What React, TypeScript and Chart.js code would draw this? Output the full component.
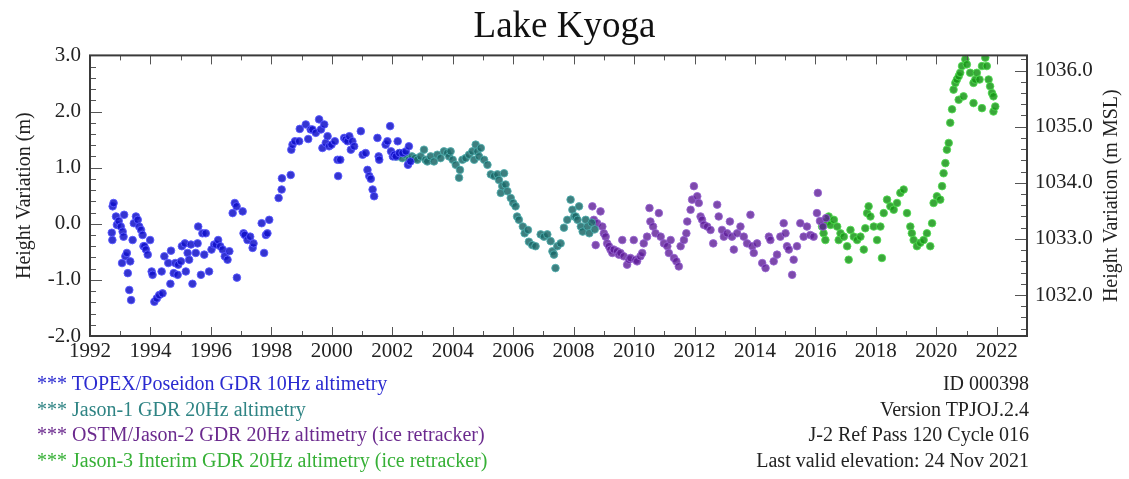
import React, { useEffect, useRef } from "react";
import { Chart, registerables } from "chart.js";

Chart.register(...registerables);

const chartTitle = "Lake Kyoga";
const leftAxisTitle = "Height Variation (m)";
const rightAxisTitle = "Height Variation (m MSL)";
const xTickYears = [1992, 1994, 1996, 1998, 2000, 2002, 2004, 2006, 2008, 2010, 2012, 2014, 2016, 2018, 2020, 2022];
const leftTicks = [-2, -1, 0, 1, 2, 3];
const rightTicks = [1032, 1033, 1034, 1035, 1036];

const topexYears = [
  1992.72, 1992.74, 1992.75, 1992.78, 1992.86, 1992.89, 1992.95, 1993.02, 1993.06, 1993.08,
  1993.11, 1993.13, 1993.17, 1993.22, 1993.25, 1993.30, 1993.33, 1993.36, 1993.41, 1993.45,
  1993.52, 1993.58, 1993.63, 1993.69, 1993.74, 1993.77, 1993.80, 1993.85, 1993.91, 1993.99,
  1994.04, 1994.07, 1994.13, 1994.21, 1994.29, 1994.37, 1994.40, 1994.46, 1994.59, 1994.66,
  1994.68, 1994.77, 1994.82, 1994.90, 1994.92, 1995.01, 1995.04, 1995.14, 1995.17, 1995.23,
  1995.28, 1995.34, 1995.39, 1995.50, 1995.56, 1995.58, 1995.67, 1995.72, 1995.78, 1995.83,
  1995.94, 1996.02, 1996.11, 1996.17, 1996.24, 1996.31, 1996.39, 1996.46, 1996.55, 1996.61,
  1996.72, 1996.79, 1996.85, 1996.86, 1997.05, 1997.08, 1997.12, 1997.21, 1997.30, 1997.38,
  1997.41, 1997.68, 1997.76, 1997.82, 1997.87, 1997.93, 1998.24, 1998.34, 1998.35, 1998.64,
  1998.66, 1998.70, 1998.78, 1998.92, 1998.94, 1999.14, 1999.22, 1999.30, 1999.36, 1999.47,
  1999.58, 1999.64, 1999.69, 1999.75, 1999.80, 1999.86, 1999.91, 1999.99, 2000.10, 2000.19,
  2000.21, 2000.28, 2000.41, 2000.46, 2000.52, 2000.58, 2000.63, 2000.68, 2000.74, 2000.96,
  2001.02, 2001.12, 2001.18, 2001.24, 2001.29, 2001.35, 2001.40, 2001.51, 2001.55, 2001.57,
  2001.78, 2001.84, 2001.93, 2001.96, 2002.02, 2002.07, 2002.12, 2002.18, 2002.23, 2002.34,
  2002.45, 2002.52, 2002.55, 2002.60,
];
const topexHeights = [
  -0.16, -0.29, 0.31, 0.37, 0.13, -0.02, 0.05, -0.05, -0.70, -0.14,
  -0.23, 0.16, -0.58, -0.52, -0.88, -1.18, -0.67, -1.36, -0.29, 0.01,
  0.13, 0.07, -0.05, -0.11, -0.20, -0.40, -0.40, -0.46, -0.55, -0.29,
  -0.85, -0.91, -1.39, -1.33, -1.27, -0.85, -1.24, -0.58, -0.70, -1.07,
  -0.48, -0.88, -0.70, -0.91, -0.73, -0.67, -0.40, -0.35, -0.85, -0.52,
  -0.64, -0.37, -1.07, -0.52, -0.35, -0.05, -0.91, -0.17, -0.55, -0.17,
  -0.85, -0.46, -0.37, -0.37, -0.29, -0.40, -0.46, -0.58, -0.64, -0.49,
  0.19, 0.37, 0.31, -0.96, 0.22, -0.17, -0.20, -0.29, -0.23, -0.43,
  -0.35, 0.01, -0.52, -0.20, -0.17, 0.07, 0.46, 0.61, 0.81, 0.87,
  1.32, 1.41, 1.47, 1.47, 1.69, 1.77, 1.51, 1.68, 1.68, 1.62,
  1.86, 1.68, 1.35, 1.77, 1.44, 1.56, 1.38, 1.41, 1.47, 1.14,
  0.85, 1.14, 1.53, 1.50, 1.47, 1.56, 1.32, 1.47, 1.38, 1.65,
  1.23, 1.26, 0.96, 0.85, 0.80, 0.61, 0.49, 1.53, 1.20, 1.14,
  1.41, 1.47, 1.74, 1.29, 1.20, 1.23, 1.20, 1.47, 1.26, 1.26,
  1.29, 1.05, 1.38, 1.11,
];

const jason1Years = [
  2002.10, 2002.17, 2002.25, 2002.33, 2002.44, 2002.55, 2002.65, 2002.75, 2002.83, 2002.94,
  2003.05, 2003.10, 2003.16, 2003.27, 2003.38, 2003.49, 2003.60, 2003.71, 2003.82, 2003.88,
  2003.93, 2004.00, 2004.10, 2004.21, 2004.24, 2004.32, 2004.43, 2004.54, 2004.65, 2004.71,
  2004.76, 2004.82, 2004.87, 2004.93, 2005.04, 2005.15, 2005.26, 2005.37, 2005.48, 2005.53,
  2005.59, 2005.64, 2005.70, 2005.75, 2005.81, 2005.92, 2006.00, 2006.08, 2006.13, 2006.19,
  2006.32, 2006.38, 2006.49, 2006.52, 2006.63, 2006.74, 2006.91, 2007.02, 2007.13, 2007.24,
  2007.30, 2007.35, 2007.40, 2007.46, 2007.57, 2007.68, 2007.79, 2007.90, 2007.96, 2008.02,
  2008.07, 2008.13, 2008.18, 2008.24, 2008.30, 2008.40, 2008.46, 2008.52, 2008.60, 2008.70,
];
const jason1Heights = [
  1.20, 1.20, 1.26, 1.17, 1.23, 1.14, 1.20, 1.17, 1.14, 1.20,
  1.32, 1.14, 1.11, 1.20, 1.11, 1.23, 1.17, 1.29, 1.26, 1.20,
  1.29, 1.14, 1.05, 0.82, 0.96, 1.14, 1.17, 1.23, 1.29, 1.14,
  1.41, 1.29, 1.20, 1.35, 1.14, 1.05, 0.88, 0.85, 0.88, 0.78,
  0.55, 0.67, 0.90, 0.70, 0.58, 0.46, 0.37, 0.31, 0.13, 0.07,
  -0.05, -0.17, -0.11, -0.32, -0.38, -0.40, -0.19, -0.23, -0.19, -0.31,
  -0.49, -0.55, -0.79, -0.40, -0.35, -0.07, 0.07, 0.43, 0.25, 0.13,
  0.13, 0.07, 0.31, -0.05, -0.14, 0.07, -0.05, -0.17, 0.02, -0.10,
];

const jason2Years = [
  2008.62, 2008.67, 2008.73, 2008.78, 2008.89, 2008.95, 2009.00, 2009.06, 2009.11, 2009.17,
  2009.22, 2009.28, 2009.33, 2009.44, 2009.50, 2009.55, 2009.61, 2009.66, 2009.77, 2009.83,
  2009.88, 2009.99, 2010.05, 2010.10, 2010.21, 2010.27, 2010.32, 2010.43, 2010.51, 2010.54,
  2010.63, 2010.71, 2010.82, 2010.88, 2010.99, 2011.10, 2011.15, 2011.21, 2011.32, 2011.40,
  2011.48, 2011.54, 2011.65, 2011.73, 2011.76, 2011.87, 2011.92, 2011.98, 2012.09, 2012.14,
  2012.20, 2012.25, 2012.31, 2012.42, 2012.53, 2012.62, 2012.75, 2012.80, 2012.91, 2012.97,
  2013.08, 2013.17, 2013.24, 2013.30, 2013.41, 2013.52, 2013.63, 2013.74, 2013.85, 2013.91,
  2013.96, 2014.07, 2014.24, 2014.35, 2014.46, 2014.51, 2014.62, 2014.73, 2014.84, 2014.95,
  2015.01, 2015.06, 2015.12, 2015.23, 2015.28, 2015.39, 2015.50, 2015.61, 2015.72, 2015.83,
  2015.94, 2016.05, 2016.08, 2016.15, 2016.25, 2016.35,
];
const jason2Heights = [
  0.31, 0.07, -0.38, 0.01, 0.22, -0.05, -0.17, -0.23, -0.35, -0.40,
  -0.46, -0.52, -0.46, -0.49, -0.55, -0.52, -0.29, -0.58, -0.73, -0.64,
  -0.61, -0.29, -0.64, -0.67, -0.58, -0.52, -0.35, -0.23, 0.28, 0.04,
  -0.05, -0.17, 0.19, -0.23, -0.35, -0.40, -0.52, -0.29, -0.61, -0.67,
  -0.76, -0.40, -0.29, -0.17, 0.04, 0.25, 0.43, 0.67, 0.49, 0.37,
  0.13, 0.07, -0.02, -0.05, -0.11, -0.35, 0.34, 0.13, -0.11, -0.23,
  -0.17, 0.04, -0.23, -0.46, -0.17, -0.05, -0.23, -0.35, 0.16, -0.40,
  -0.52, -0.35, -0.70, -0.79, -0.23, -0.29, -0.67, -0.55, -0.23, 0.01,
  -0.17, -0.40, -0.46, -0.91, -0.64, -0.40, 0.01, -0.23, -0.05, -0.20,
  -0.23, 0.19, 0.55, 0.05, -0.05, 0.10,
];

const jason3Years = [
  2016.22, 2016.27, 2016.33, 2016.39, 2016.44, 2016.50, 2016.61, 2016.72, 2016.77, 2016.83,
  2016.94, 2017.05, 2017.10, 2017.16, 2017.27, 2017.38, 2017.49, 2017.60, 2017.65, 2017.71,
  2017.76, 2017.82, 2017.93, 2018.04, 2018.15, 2018.20, 2018.26, 2018.37, 2018.48, 2018.59,
  2018.70, 2018.81, 2018.92, 2019.03, 2019.14, 2019.19, 2019.25, 2019.36, 2019.47, 2019.58,
  2019.69, 2019.80, 2019.86, 2019.91, 2020.02, 2020.13, 2020.19, 2020.24, 2020.30, 2020.35,
  2020.41, 2020.46, 2020.52, 2020.57, 2020.63, 2020.68, 2020.74, 2020.74, 2020.79, 2020.85,
  2020.90, 2020.96, 2021.01, 2021.12, 2021.23, 2021.23, 2021.29, 2021.34, 2021.43, 2021.51,
  2021.51, 2021.62, 2021.67, 2021.73, 2021.78, 2021.84, 2021.89, 2021.89, 2021.95,
];
const jason3Heights = [
  -0.05, -0.17, -0.29, 0.04, 0.13, -0.02, 0.07, -0.05, -0.29, -0.17,
  -0.23, -0.40, -0.64, -0.11, -0.23, -0.29, -0.23, -0.46, -0.08, 0.19,
  0.31, 0.13, -0.05, -0.29, -0.05, -0.61, 0.19, 0.43, 0.31, 0.25,
  0.37, 0.55, 0.61, 0.19, -0.05, -0.17, -0.29, -0.40, -0.34, -0.29,
  -0.17, -0.40, 0.01, 0.37, 0.49, 0.43, 0.67, 0.90, 1.08, 1.32,
  1.44, 1.80, 2.04, 2.39, 2.51, 2.57, 2.63, 2.21, 2.69, 2.81,
  2.27, 2.93, 2.84, 2.69, 2.51, 2.15, 2.57, 2.69, 2.57, 2.81,
  2.06, 2.96, 2.81, 2.57, 2.45, 2.33, 2.27, 2.00, 2.09,
];

const seriesNames = [
  "*** TOPEX/Poseidon GDR 10Hz altimetry",
  "*** Jason-1 GDR 20Hz altimetry",
  "*** OSTM/Jason-2 GDR 20Hz altimetry (ice retracker)",
  "*** Jason-3 Interim GDR 20Hz altimetry (ice retracker)",
];
const infoLines = [
  "ID 000398",
  "Version TPJOJ.2.4",
  "J-2 Ref Pass 120 Cycle 016",
  "Last valid elevation: 24 Nov 2021",
];

const SERIF = '"Liberation Serif", "Times New Roman", serif';
const legendColors = ["#2a2ad0", "#2f8484", "#6b2a8e", "#36b036"];
const pointFills = ["rgba(16,16,200,0.85)", "rgba(28,105,105,0.85)", "rgba(92,28,150,0.8)", "rgba(24,150,24,0.85)"];
const pointBorders = ["rgba(90,90,255,0.9)", "rgba(80,175,175,0.85)", "rgba(150,100,210,0.85)", "rgba(80,220,80,0.85)"];

const toPoints = (xs: number[], ys: number[]) => xs.map((x, i) => ({ x, y: ys[i] }));

const axisDecor = {
  id: "axisDecor",
  afterDraw(chart: any) {
    const { ctx, chartArea } = chart;
    const { left, right, top, bottom } = chartArea;
    const xs = chart.scales.x;
    const yl = chart.scales.y;
    const yr = chart.scales.y2;
    ctx.save();
    ctx.strokeStyle = "#555";
    ctx.lineWidth = 1;
    ctx.beginPath();
    for (let v = Math.ceil(xs.min); v <= xs.max; v += 1) {
      const px = Math.round(xs.getPixelForValue(v)) + 0.5;
      const len = v % 2 === 0 ? 9 : 5;
      ctx.moveTo(px, bottom);
      ctx.lineTo(px, bottom - len);
      ctx.moveTo(px, top);
      ctx.lineTo(px, top + len);
    }
    for (let i = Math.ceil(yl.min * 5); i <= Math.floor(yl.max * 5); i++) {
      const py = Math.round(yl.getPixelForValue(i / 5)) + 0.5;
      const len = i % 5 === 0 ? 12 : 6;
      ctx.moveTo(left, py);
      ctx.lineTo(left + len, py);
    }
    for (let i = Math.ceil(yr.min * 5); i <= Math.floor(yr.max * 5); i++) {
      const py = Math.round(yr.getPixelForValue(i / 5)) + 0.5;
      const len = i % 5 === 0 ? 12 : 6;
      ctx.moveTo(right, py);
      ctx.lineTo(right - len, py);
    }
    ctx.stroke();
    ctx.lineWidth = 2;
    ctx.strokeStyle = "#3a3a3a";
    ctx.strokeRect(left, top, right - left, bottom - top);
    ctx.translate(1112, (top + bottom) / 2);
    ctx.rotate(-Math.PI / 2);
    ctx.font = `20px ${SERIF}`;
    ctx.fillStyle = "#222";
    ctx.textAlign = "center";
    ctx.textBaseline = "middle";
    ctx.fillText(rightAxisTitle, 0, 0);
    ctx.restore();
  },
};

export default function App() {
  const canvasRef = useRef<HTMLCanvasElement | null>(null);

  useEffect(() => {
    if (!canvasRef.current) return;
    const yearSets = [topexYears, jason1Years, jason2Years, jason3Years];
    const heightSets = [topexHeights, jason1Heights, jason2Heights, jason3Heights];
    const noGrid = { display: false, drawTicks: false };
    const chart = new Chart(canvasRef.current, {
      type: "scatter",
      data: {
        datasets: yearSets.map((ys, i) => ({
          label: seriesNames[i],
          data: toPoints(ys, heightSets[i]),
          backgroundColor: pointFills[i],
          borderColor: pointBorders[i],
          borderWidth: 1,
          pointRadius: 3.8,
          yAxisID: "y",
        })),
      },
      options: {
        animation: false,
        responsive: false,
        maintainAspectRatio: false,
        layout: { padding: 0 },
        plugins: {
          legend: { display: false },
          tooltip: { enabled: false },
          title: {
            display: true,
            text: chartTitle,
            color: "#111",
            font: { family: SERIF, size: 37, weight: "normal" },
            padding: { top: 5, bottom: 6 },
          },
        },
        scales: {
          x: {
            type: "linear",
            min: 1992,
            max: 2023,
            grid: noGrid,
            border: { display: false },
            afterBuildTicks: (s: any) => {
              s.ticks = xTickYears.map((v) => ({ value: v }));
            },
            afterFit: (s: any) => {
              s.height = 36;
            },
            ticks: {
              color: "#222",
              padding: 3,
              maxRotation: 0,
              autoSkip: false,
              font: { family: SERIF, size: 21 },
              callback: (v: any) => String(v),
            },
          },
          y: {
            type: "linear",
            position: "left",
            min: -2,
            max: 3,
            grid: noGrid,
            border: { display: false },
            afterBuildTicks: (s: any) => {
              s.ticks = leftTicks.map((v) => ({ value: v }));
            },
            afterFit: (s: any) => {
              s.width = 90;
            },
            title: {
              display: true,
              text: leftAxisTitle,
              color: "#222",
              font: { family: SERIF, size: 20 },
              padding: { top: 13, bottom: 0 },
            },
            ticks: {
              color: "#222",
              padding: 9,
              font: { family: SERIF, size: 21 },
              callback: (v: any) => Number(v).toFixed(1),
            },
          },
          y2: {
            type: "linear",
            position: "right",
            min: 1031.27,
            max: 1036.27,
            grid: noGrid,
            border: { display: false },
            afterBuildTicks: (s: any) => {
              s.ticks = rightTicks.map((v) => ({ value: v }));
            },
            afterFit: (s: any) => {
              s.width = 102;
            },
            ticks: {
              color: "#222",
              padding: 8,
              font: { family: SERIF, size: 21 },
              callback: (v: any) => Number(v).toFixed(1),
            },
          },
        },
      },
      plugins: [axisDecor],
    });
    return () => chart.destroy();
  }, []);

  return (
    <div style={{ position: "fixed", left: 0, top: 0, width: 1129, height: 479, background: "#fff", fontFamily: SERIF }}>
      <canvas ref={canvasRef} width={1129} height={372} style={{ position: "absolute", left: 0, top: 0, width: 1129, height: 372 }} />
      <div style={{ position: "absolute", left: 37, top: 371, fontSize: 20, lineHeight: "25.7px", whiteSpace: "nowrap" }}>
        {seriesNames.map((n, i) => (
          <div key={n} style={{ color: legendColors[i] }}>{n}</div>
        ))}
      </div>
      <div style={{ position: "absolute", right: 100, top: 371, fontSize: 20, lineHeight: "25.7px", textAlign: "right", color: "#222", whiteSpace: "nowrap" }}>
        {infoLines.map((t) => (
          <div key={t}>{t}</div>
        ))}
      </div>
    </div>
  );
}
